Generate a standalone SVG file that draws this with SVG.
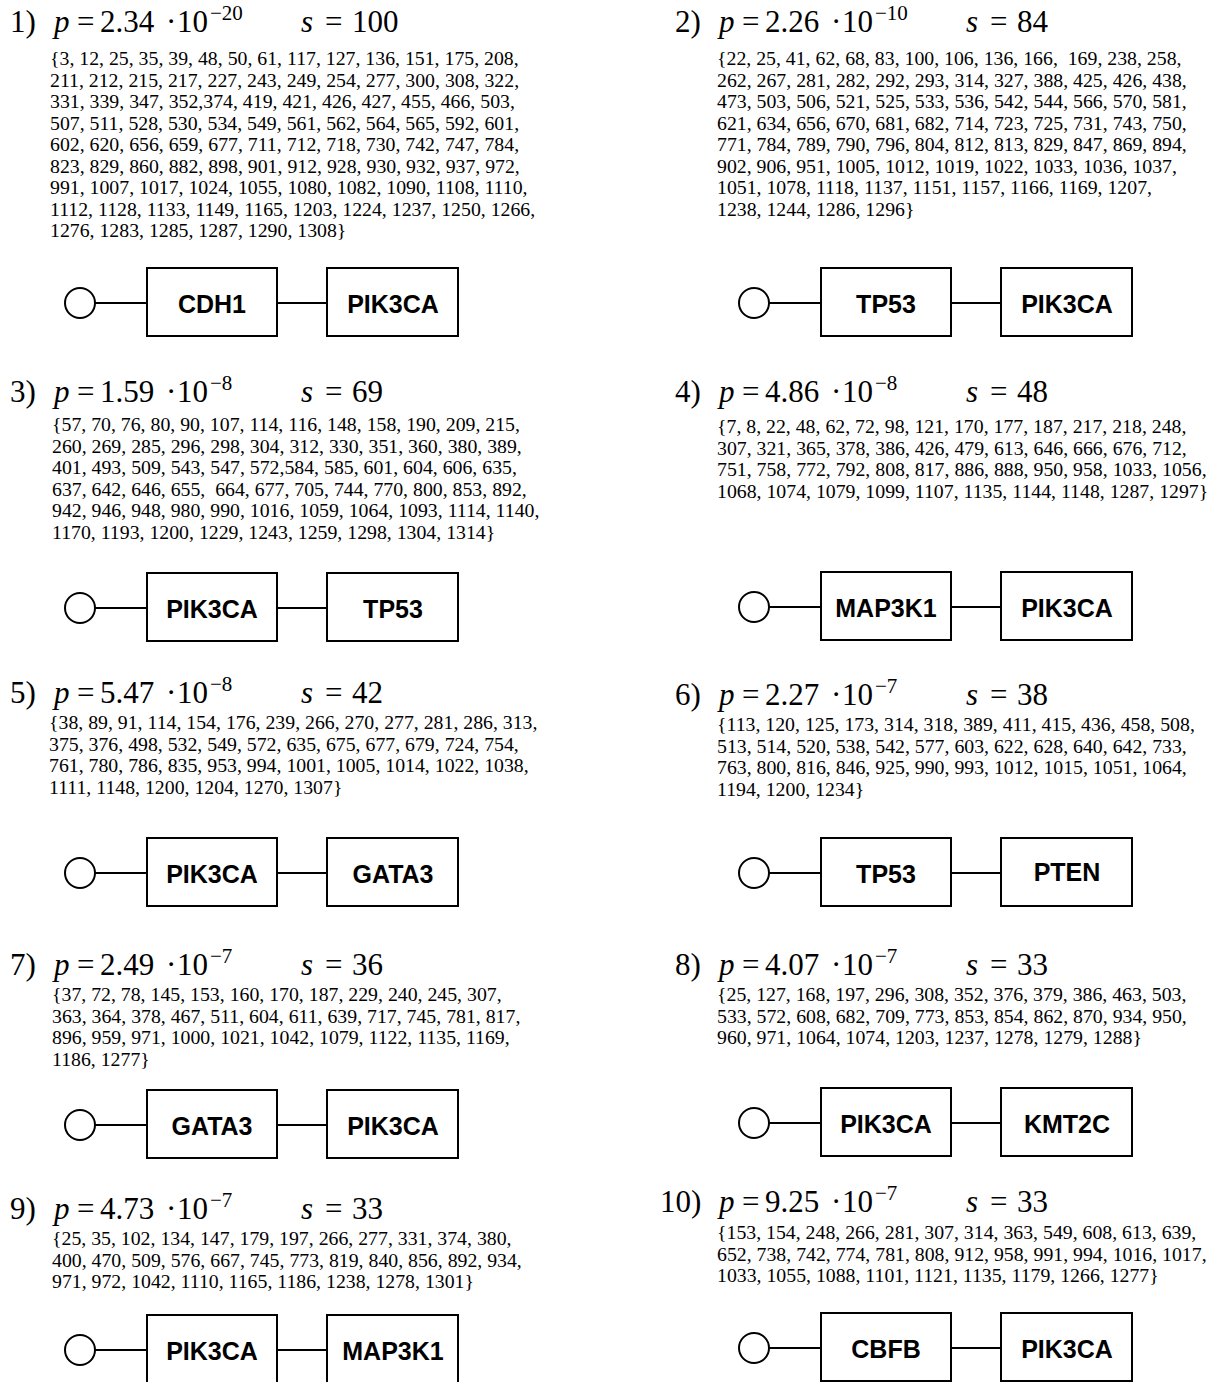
<svg xmlns="http://www.w3.org/2000/svg" width="1212" height="1382" viewBox="0 0 1212 1382">
<style>
.hd{font-family:"Liberation Serif",serif;font-size:31px;fill:#000}
.it{font-style:italic}
.sup{font-size:21px}
.set{font-family:"Liberation Serif",serif;font-size:19.8px;fill:#000}
.box{fill:#fff;stroke:#000;stroke-width:2}
.start{fill:#fff;stroke:#000;stroke-width:2}
.lbl{font-family:"Liberation Sans",Arial,sans-serif;font-weight:bold;font-size:25px;text-anchor:middle;fill:#000}
.edge{stroke:#000;stroke-width:2;fill:none}
</style>
<rect width="1212" height="1382" fill="#fff"/>

<!-- Block 1 -->
<g id="block1">
<text class="hd" y="32"><tspan x="10">1)</tspan><tspan x="54" class="it">p</tspan><tspan x="77">=</tspan><tspan x="100">2.34</tspan><tspan x="166">·</tspan><tspan x="177">10</tspan><tspan x="210" dy="-12" class="sup">−20</tspan></text>
<text class="hd" y="32"><tspan x="301" class="it">s</tspan><tspan x="325">=</tspan><tspan x="352">100</tspan></text>
<text class="set" xml:space="preserve" x="50" y="65">{3, 12, 25, 35, 39, 48, 50, 61, 117, 127, 136, 151, 175, 208,</text>
<text class="set" xml:space="preserve" x="50" y="86.5">211, 212, 215, 217, 227, 243, 249, 254, 277, 300, 308, 322,</text>
<text class="set" xml:space="preserve" x="50" y="108">331, 339, 347, 352,374, 419, 421, 426, 427, 455, 466, 503,</text>
<text class="set" xml:space="preserve" x="50" y="129.5">507, 511, 528, 530, 534, 549, 561, 562, 564, 565, 592, 601,</text>
<text class="set" xml:space="preserve" x="50" y="151">602, 620, 656, 659, 677, 711, 712, 718, 730, 742, 747, 784,</text>
<text class="set" xml:space="preserve" x="50" y="172.5">823, 829, 860, 882, 898, 901, 912, 928, 930, 932, 937, 972,</text>
<text class="set" xml:space="preserve" x="50" y="194">991, 1007, 1017, 1024, 1055, 1080, 1082, 1090, 1108, 1110,</text>
<text class="set" xml:space="preserve" x="50" y="215.5">1112, 1128, 1133, 1149, 1165, 1203, 1224, 1237, 1250, 1266,</text>
<text class="set" xml:space="preserve" x="50" y="237">1276, 1283, 1285, 1287, 1290, 1308}</text>
</g>

<!-- Block 2 -->
<g id="block2">
<text class="hd" y="32"><tspan x="675">2)</tspan><tspan x="719" class="it">p</tspan><tspan x="742">=</tspan><tspan x="765">2.26</tspan><tspan x="831">·</tspan><tspan x="842">10</tspan><tspan x="875" dy="-12" class="sup">−10</tspan></text>
<text class="hd" y="32"><tspan x="966" class="it">s</tspan><tspan x="990">=</tspan><tspan x="1017">84</tspan></text>
<text class="set" xml:space="preserve" x="717" y="65">{22, 25, 41, 62, 68, 83, 100, 106, 136, 166,  169, 238, 258,</text>
<text class="set" xml:space="preserve" x="717" y="86.5">262, 267, 281, 282, 292, 293, 314, 327, 388, 425, 426, 438,</text>
<text class="set" xml:space="preserve" x="717" y="108">473, 503, 506, 521, 525, 533, 536, 542, 544, 566, 570, 581,</text>
<text class="set" xml:space="preserve" x="717" y="129.5">621, 634, 656, 670, 681, 682, 714, 723, 725, 731, 743, 750,</text>
<text class="set" xml:space="preserve" x="717" y="151">771, 784, 789, 790, 796, 804, 812, 813, 829, 847, 869, 894,</text>
<text class="set" xml:space="preserve" x="717" y="172.5">902, 906, 951, 1005, 1012, 1019, 1022, 1033, 1036, 1037,</text>
<text class="set" xml:space="preserve" x="717" y="194">1051, 1078, 1118, 1137, 1151, 1157, 1166, 1169, 1207,</text>
<text class="set" xml:space="preserve" x="717" y="215.5">1238, 1244, 1286, 1296}</text>
</g>

<!-- Block 3 -->
<g id="block3">
<text class="hd" y="402"><tspan x="10">3)</tspan><tspan x="54" class="it">p</tspan><tspan x="77">=</tspan><tspan x="100">1.59</tspan><tspan x="166">·</tspan><tspan x="177">10</tspan><tspan x="210" dy="-12" class="sup">−8</tspan></text>
<text class="hd" y="402"><tspan x="301" class="it">s</tspan><tspan x="325">=</tspan><tspan x="352">69</tspan></text>
<text class="set" xml:space="preserve" x="52" y="431">{57, 70, 76, 80, 90, 107, 114, 116, 148, 158, 190, 209, 215,</text>
<text class="set" xml:space="preserve" x="52" y="452.5">260, 269, 285, 296, 298, 304, 312, 330, 351, 360, 380, 389,</text>
<text class="set" xml:space="preserve" x="52" y="474">401, 493, 509, 543, 547, 572,584, 585, 601, 604, 606, 635,</text>
<text class="set" xml:space="preserve" x="52" y="495.5">637, 642, 646, 655,  664, 677, 705, 744, 770, 800, 853, 892,</text>
<text class="set" xml:space="preserve" x="52" y="517">942, 946, 948, 980, 990, 1016, 1059, 1064, 1093, 1114, 1140,</text>
<text class="set" xml:space="preserve" x="52" y="538.5">1170, 1193, 1200, 1229, 1243, 1259, 1298, 1304, 1314}</text>
</g>

<!-- Block 4 -->
<g id="block4">
<text class="hd" y="402"><tspan x="675">4)</tspan><tspan x="719" class="it">p</tspan><tspan x="742">=</tspan><tspan x="765">4.86</tspan><tspan x="831">·</tspan><tspan x="842">10</tspan><tspan x="875" dy="-12" class="sup">−8</tspan></text>
<text class="hd" y="402"><tspan x="966" class="it">s</tspan><tspan x="990">=</tspan><tspan x="1017">48</tspan></text>
<text class="set" xml:space="preserve" x="717" y="433">{7, 8, 22, 48, 62, 72, 98, 121, 170, 177, 187, 217, 218, 248,</text>
<text class="set" xml:space="preserve" x="717" y="454.5">307, 321, 365, 378, 386, 426, 479, 613, 646, 666, 676, 712,</text>
<text class="set" xml:space="preserve" x="717" y="476">751, 758, 772, 792, 808, 817, 886, 888, 950, 958, 1033, 1056,</text>
<text class="set" xml:space="preserve" x="717" y="497.5">1068, 1074, 1079, 1099, 1107, 1135, 1144, 1148, 1287, 1297}</text>
</g>

<!-- Block 5 -->
<g id="block5">
<text class="hd" y="703"><tspan x="10">5)</tspan><tspan x="54" class="it">p</tspan><tspan x="77">=</tspan><tspan x="100">5.47</tspan><tspan x="166">·</tspan><tspan x="177">10</tspan><tspan x="210" dy="-12" class="sup">−8</tspan></text>
<text class="hd" y="703"><tspan x="301" class="it">s</tspan><tspan x="325">=</tspan><tspan x="352">42</tspan></text>
<text class="set" xml:space="preserve" x="49" y="729">{38, 89, 91, 114, 154, 176, 239, 266, 270, 277, 281, 286, 313,</text>
<text class="set" xml:space="preserve" x="49" y="750.5">375, 376, 498, 532, 549, 572, 635, 675, 677, 679, 724, 754,</text>
<text class="set" xml:space="preserve" x="49" y="772">761, 780, 786, 835, 953, 994, 1001, 1005, 1014, 1022, 1038,</text>
<text class="set" xml:space="preserve" x="49" y="793.5">1111, 1148, 1200, 1204, 1270, 1307}</text>
</g>

<!-- Block 6 -->
<g id="block6">
<text class="hd" y="705"><tspan x="675">6)</tspan><tspan x="719" class="it">p</tspan><tspan x="742">=</tspan><tspan x="765">2.27</tspan><tspan x="831">·</tspan><tspan x="842">10</tspan><tspan x="875" dy="-12" class="sup">−7</tspan></text>
<text class="hd" y="705"><tspan x="966" class="it">s</tspan><tspan x="990">=</tspan><tspan x="1017">38</tspan></text>
<text class="set" xml:space="preserve" x="717" y="731">{113, 120, 125, 173, 314, 318, 389, 411, 415, 436, 458, 508,</text>
<text class="set" xml:space="preserve" x="717" y="752.5">513, 514, 520, 538, 542, 577, 603, 622, 628, 640, 642, 733,</text>
<text class="set" xml:space="preserve" x="717" y="774">763, 800, 816, 846, 925, 990, 993, 1012, 1015, 1051, 1064,</text>
<text class="set" xml:space="preserve" x="717" y="795.5">1194, 1200, 1234}</text>
</g>

<!-- Block 7 -->
<g id="block7">
<text class="hd" y="975"><tspan x="10">7)</tspan><tspan x="54" class="it">p</tspan><tspan x="77">=</tspan><tspan x="100">2.49</tspan><tspan x="166">·</tspan><tspan x="177">10</tspan><tspan x="210" dy="-12" class="sup">−7</tspan></text>
<text class="hd" y="975"><tspan x="301" class="it">s</tspan><tspan x="325">=</tspan><tspan x="352">36</tspan></text>
<text class="set" xml:space="preserve" x="52" y="1001">{37, 72, 78, 145, 153, 160, 170, 187, 229, 240, 245, 307,</text>
<text class="set" xml:space="preserve" x="52" y="1022.5">363, 364, 378, 467, 511, 604, 611, 639, 717, 745, 781, 817,</text>
<text class="set" xml:space="preserve" x="52" y="1044">896, 959, 971, 1000, 1021, 1042, 1079, 1122, 1135, 1169,</text>
<text class="set" xml:space="preserve" x="52" y="1065.5">1186, 1277}</text>
</g>

<!-- Block 8 -->
<g id="block8">
<text class="hd" y="975"><tspan x="675">8)</tspan><tspan x="719" class="it">p</tspan><tspan x="742">=</tspan><tspan x="765">4.07</tspan><tspan x="831">·</tspan><tspan x="842">10</tspan><tspan x="875" dy="-12" class="sup">−7</tspan></text>
<text class="hd" y="975"><tspan x="966" class="it">s</tspan><tspan x="990">=</tspan><tspan x="1017">33</tspan></text>
<text class="set" xml:space="preserve" x="717" y="1001">{25, 127, 168, 197, 296, 308, 352, 376, 379, 386, 463, 503,</text>
<text class="set" xml:space="preserve" x="717" y="1022.5">533, 572, 608, 682, 709, 773, 853, 854, 862, 870, 934, 950,</text>
<text class="set" xml:space="preserve" x="717" y="1044">960, 971, 1064, 1074, 1203, 1237, 1278, 1279, 1288}</text>
</g>

<!-- Block 9 -->
<g id="block9">
<text class="hd" y="1219"><tspan x="10">9)</tspan><tspan x="54" class="it">p</tspan><tspan x="77">=</tspan><tspan x="100">4.73</tspan><tspan x="166">·</tspan><tspan x="177">10</tspan><tspan x="210" dy="-12" class="sup">−7</tspan></text>
<text class="hd" y="1219"><tspan x="301" class="it">s</tspan><tspan x="325">=</tspan><tspan x="352">33</tspan></text>
<text class="set" xml:space="preserve" x="52" y="1245">{25, 35, 102, 134, 147, 179, 197, 266, 277, 331, 374, 380,</text>
<text class="set" xml:space="preserve" x="52" y="1266.5">400, 470, 509, 576, 667, 745, 773, 819, 840, 856, 892, 934,</text>
<text class="set" xml:space="preserve" x="52" y="1288">971, 972, 1042, 1110, 1165, 1186, 1238, 1278, 1301}</text>
</g>

<!-- Block 10 -->
<g id="block10">
<text class="hd" y="1212"><tspan x="660">10)</tspan><tspan x="719" class="it">p</tspan><tspan x="742">=</tspan><tspan x="765">9.25</tspan><tspan x="831">·</tspan><tspan x="842">10</tspan><tspan x="875" dy="-12" class="sup">−7</tspan></text>
<text class="hd" y="1212"><tspan x="966" class="it">s</tspan><tspan x="990">=</tspan><tspan x="1017">33</tspan></text>
<text class="set" xml:space="preserve" x="717" y="1239">{153, 154, 248, 266, 281, 307, 314, 363, 549, 608, 613, 639,</text>
<text class="set" xml:space="preserve" x="717" y="1260.5">652, 738, 742, 774, 781, 808, 912, 958, 991, 994, 1016, 1017,</text>
<text class="set" xml:space="preserve" x="717" y="1282">1033, 1055, 1088, 1101, 1121, 1135, 1179, 1266, 1277}</text>
</g>

<!-- Connectors -->
<g id="connectors">
<line class="edge" x1="95" y1="303" x2="147" y2="303"/><line class="edge" x1="277" y1="303" x2="327" y2="303"/>
<line class="edge" x1="769" y1="303" x2="821" y2="303"/><line class="edge" x1="951" y1="303" x2="1001" y2="303"/>
<line class="edge" x1="95" y1="608" x2="147" y2="608"/><line class="edge" x1="277" y1="608" x2="327" y2="608"/>
<line class="edge" x1="769" y1="607" x2="821" y2="607"/><line class="edge" x1="951" y1="607" x2="1001" y2="607"/>
<line class="edge" x1="95" y1="873" x2="147" y2="873"/><line class="edge" x1="277" y1="873" x2="327" y2="873"/>
<line class="edge" x1="769" y1="873" x2="821" y2="873"/><line class="edge" x1="951" y1="873" x2="1001" y2="873"/>
<line class="edge" x1="95" y1="1125" x2="147" y2="1125"/><line class="edge" x1="277" y1="1125" x2="327" y2="1125"/>
<line class="edge" x1="769" y1="1123" x2="821" y2="1123"/><line class="edge" x1="951" y1="1123" x2="1001" y2="1123"/>
<line class="edge" x1="95" y1="1350" x2="147" y2="1350"/><line class="edge" x1="277" y1="1350" x2="327" y2="1350"/>
<line class="edge" x1="769" y1="1348" x2="821" y2="1348"/><line class="edge" x1="951" y1="1348" x2="1001" y2="1348"/>
</g>

<!-- Nodes block 1 -->
<g id="n1-start"><circle class="start" cx="80" cy="303" r="15"/></g>
<g id="n1-a"><rect class="box" x="147" y="268" width="130" height="68"/><text class="lbl" x="212" y="313">CDH1</text></g>
<g id="n1-b"><rect class="box" x="327" y="268" width="131" height="68"/><text class="lbl" x="393" y="313">PIK3CA</text></g>
<!-- block 2 -->
<g id="n2-start"><circle class="start" cx="754" cy="303" r="15"/></g>
<g id="n2-a"><rect class="box" x="821" y="268" width="130" height="68"/><text class="lbl" x="886" y="313">TP53</text></g>
<g id="n2-b"><rect class="box" x="1001" y="268" width="131" height="68"/><text class="lbl" x="1067" y="313">PIK3CA</text></g>
<!-- block 3 -->
<g id="n3-start"><circle class="start" cx="80" cy="608" r="15"/></g>
<g id="n3-a"><rect class="box" x="147" y="573" width="130" height="68"/><text class="lbl" x="212" y="618">PIK3CA</text></g>
<g id="n3-b"><rect class="box" x="327" y="573" width="131" height="68"/><text class="lbl" x="393" y="618">TP53</text></g>
<!-- block 4 -->
<g id="n4-start"><circle class="start" cx="754" cy="607" r="15"/></g>
<g id="n4-a"><rect class="box" x="821" y="572" width="130" height="68"/><text class="lbl" x="886" y="617">MAP3K1</text></g>
<g id="n4-b"><rect class="box" x="1001" y="572" width="131" height="68"/><text class="lbl" x="1067" y="617">PIK3CA</text></g>
<!-- block 5 -->
<g id="n5-start"><circle class="start" cx="80" cy="873" r="15"/></g>
<g id="n5-a"><rect class="box" x="147" y="838" width="130" height="68"/><text class="lbl" x="212" y="883">PIK3CA</text></g>
<g id="n5-b"><rect class="box" x="327" y="838" width="131" height="68"/><text class="lbl" x="393" y="883">GATA3</text></g>
<!-- block 6 -->
<g id="n6-start"><circle class="start" cx="754" cy="873" r="15"/></g>
<g id="n6-a"><rect class="box" x="821" y="838" width="130" height="68"/><text class="lbl" x="886" y="883">TP53</text></g>
<g id="n6-b"><rect class="box" x="1001" y="838" width="131" height="68"/><text class="lbl" x="1067" y="881">PTEN</text></g>
<!-- block 7 -->
<g id="n7-start"><circle class="start" cx="80" cy="1125" r="15"/></g>
<g id="n7-a"><rect class="box" x="147" y="1090" width="130" height="68"/><text class="lbl" x="212" y="1135">GATA3</text></g>
<g id="n7-b"><rect class="box" x="327" y="1090" width="131" height="68"/><text class="lbl" x="393" y="1135">PIK3CA</text></g>
<!-- block 8 -->
<g id="n8-start"><circle class="start" cx="754" cy="1123" r="15"/></g>
<g id="n8-a"><rect class="box" x="821" y="1088" width="130" height="68"/><text class="lbl" x="886" y="1133">PIK3CA</text></g>
<g id="n8-b"><rect class="box" x="1001" y="1088" width="131" height="68"/><text class="lbl" x="1067" y="1133">KMT2C</text></g>
<!-- block 9 -->
<g id="n9-start"><circle class="start" cx="80" cy="1350" r="15"/></g>
<g id="n9-a"><rect class="box" x="147" y="1315" width="130" height="68"/><text class="lbl" x="212" y="1360">PIK3CA</text></g>
<g id="n9-b"><rect class="box" x="327" y="1315" width="131" height="68"/><text class="lbl" x="393" y="1360">MAP3K1</text></g>
<!-- block 10 -->
<g id="n10-start"><circle class="start" cx="754" cy="1348" r="15"/></g>
<g id="n10-a"><rect class="box" x="821" y="1313" width="130" height="68"/><text class="lbl" x="886" y="1358">CBFB</text></g>
<g id="n10-b"><rect class="box" x="1001" y="1313" width="131" height="68"/><text class="lbl" x="1067" y="1358">PIK3CA</text></g>
</svg>
